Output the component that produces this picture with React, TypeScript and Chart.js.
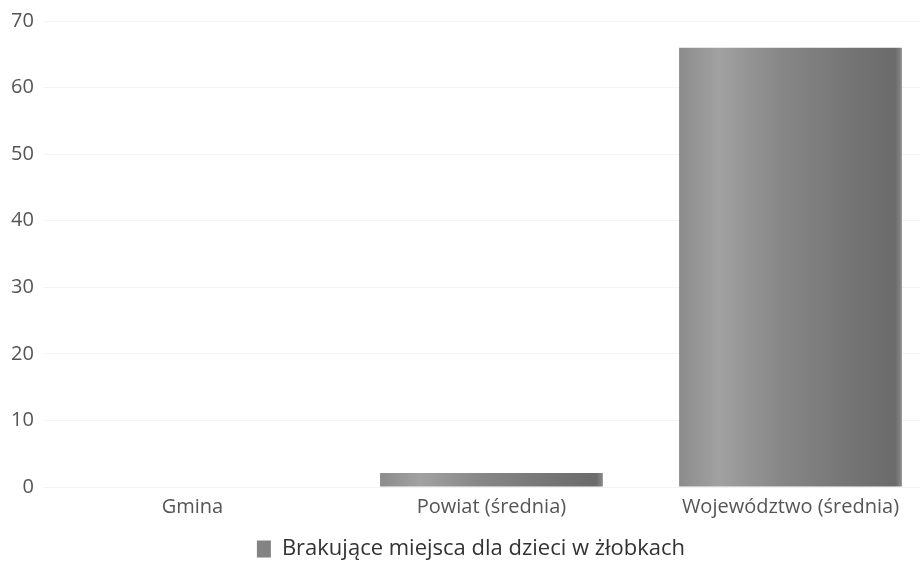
import React, { useEffect, useRef } from "react";
import { Chart, registerables } from "chart.js";

Chart.register(...registerables);

const categories = ["Gmina", "Powiat (średnia)", "Województwo (średnia)"];
const seriesLabel = "Brakujące miejsca dla dzieci w żłobkach";
const values = [0, 2.1, 66];
const yTicks = [0, 10, 20, 30, 40, 50, 60, 70];

const FONT = "'Open Sans', 'Noto Sans', sans-serif";

function makeGrad(c: CanvasRenderingContext2D, x0: number, x1: number) {
  const g = c.createLinearGradient(x0, 0, x1, 0);
  g.addColorStop(0, "#8c8c8c");
  g.addColorStop(0.18, "#a1a1a1");
  g.addColorStop(0.45, "#878787");
  g.addColorStop(0.8, "#737373");
  g.addColorStop(0.97, "#6b6b6b");
  g.addColorStop(1, "#8a8a8a");
  return g;
}

function barGradient(ctx: any) {
  const chart = ctx.chart;
  const xs = chart.scales && chart.scales.x;
  if (!xs || ctx.type !== "data") return "#888888";
  const center = xs.getPixelForValue(ctx.dataIndex);
  const w = (xs.width / categories.length) * 0.745;
  return makeGrad(chart.ctx, center - w / 2, center + w / 2);
}

export default function App() {
  const ref = useRef<HTMLCanvasElement>(null);
  useEffect(() => {
    document.body.style.margin = "0";
    const c = ref.current!;
    const chart = new Chart(c, {
      type: "bar",
      data: {
        labels: categories,
        datasets: [
          {
            label: seriesLabel,
            data: values,
            backgroundColor: barGradient as any,
            borderWidth: 0,
            barPercentage: 0.745,
            categoryPercentage: 1,
          },
        ],
      },
      options: {
        animation: false,
        responsive: false,
        maintainAspectRatio: false,
        layout: { padding: { top: 13, left: 2, right: 10, bottom: -8 } },
        scales: {
          x: {
            grid: { display: false },
            border: { display: false },
            ticks: { color: "#555", font: { family: FONT, size: 20 }, padding: 0 },
            afterFit: (s: any) => {
              s.height += 16;
            },
          },
          y: {
            min: 0,
            max: 70,
            afterBuildTicks: (s: any) => {
              s.ticks = yTicks.map((v) => ({ value: v }));
            },
            grid: { color: "rgba(0,0,0,0.045)", drawTicks: false },
            border: { display: false },
            ticks: { color: "#555", font: { family: FONT, size: 20 }, padding: 9 },
          },
        },
        plugins: {
          legend: {
            position: "bottom",
            labels: {
              color: "#333",
              font: { family: FONT, size: 22 },
              boxWidth: 14,
              boxHeight: 17,
              padding: 3,
              generateLabels: () => [
                {
                  text: seriesLabel,
                  fillStyle: "#838383",
                  strokeStyle: "#838383",
                  lineWidth: 0,
                  datasetIndex: 0,
                  hidden: false,
                  fontColor: "#333",
                } as any,
              ],
            },
          },
          tooltip: { enabled: false },
        },
      },
    });
    return () => chart.destroy();
  }, []);
  return (
    <div style={{ width: 920, height: 562, overflow: "hidden" }}>
      <canvas ref={ref} width={950} height={562} style={{ display: "block" }} />
    </div>
  );
}
